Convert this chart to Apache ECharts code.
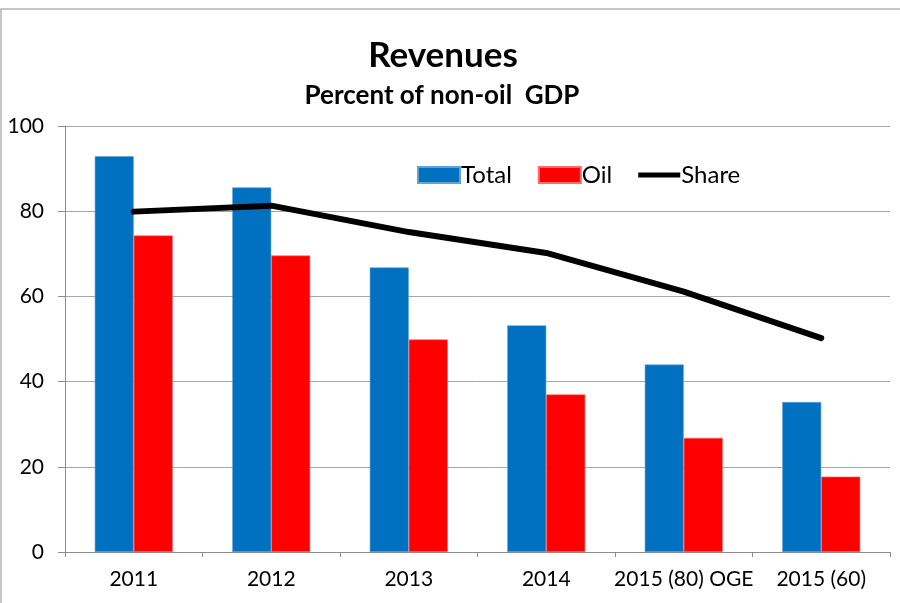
<!DOCTYPE html>
<html>
<head>
    <meta charset="utf-8">
    <title>Revenues</title>
    <script src="https://cdn.jsdelivr.net/npm/echarts@6/dist/echarts.min.js"></script>
    <style>
        body { margin: 0; padding: 0; background: #fff; }
        #chart { width: 900px; height: 603px; }
    </style>
</head>
<body>
    <div id="chart"></div>
    <script>
        // data
        var categories = ['2011', '2012', '2013', '2014', '2015 (80) OGE', '2015 (60)'];
        var totalValues = [92.9, 85.6, 66.8, 53.2, 44.0, 35.2];
        var oilValues = [74.3, 69.6, 49.9, 37.0, 26.8, 17.7];
        var shareValues = [79.9, 81.3, 75.1, 70.2, 61.1, 50.2];
        var yTicks = [0, 20, 40, 60, 80, 100];

        var font = 'Lato, "Open Sans", sans-serif';
        // thin band icon for the line entry (the empty moves keep the full 42x16 box)
        var lineIcon = 'path://M0,0M0,5.5L42,5.5L42,10.5L0,10.5ZM42,16';
        var myChart = echarts.init(document.getElementById('chart'));

        var option = {
            animation: false,
            textStyle: { fontFamily: font, color: '#000' },
            graphic: [
                {
                    type: 'rect',
                    shape: { x: 1, y: 9, width: 920, height: 620 },
                    style: { fill: 'none', stroke: '#b4b4b4', lineWidth: 1.5 },
                    silent: true
                },
                {
                    type: 'text', x: 443, y: 38,
                    style: { text: 'Revenues', textAlign: 'center', textVerticalAlign: 'top',
                             font: 'bold 35px ' + font, fill: '#000' }
                },
                {
                    type: 'text', x: 442, y: 83,
                    style: { text: 'Percent of non-oil  GDP', textAlign: 'center', textVerticalAlign: 'top',
                             font: 'bold 26px ' + font, fill: '#000' }
                }
            ],
            legend: {
                left: 412,
                top: 158,
                itemWidth: 42,
                itemHeight: 16,
                itemGap: 26,
                textStyle: { fontSize: 24, fontFamily: font, color: '#000', padding: [0, 0, 0, -4] },
                data: [
                    { name: 'Total', icon: 'rect' },
                    { name: 'Oil', icon: 'rect' },
                    { name: 'Share', icon: lineIcon, itemStyle: { color: '#000' } }
                ]
            },
            grid: { left: 65, right: 10, top: 126, bottom: 51 },
            xAxis: {
                type: 'category',
                data: categories,
                axisLine: { lineStyle: { color: '#8c8c8c', width: 1 } },
                axisTick: { show: true, length: 5, lineStyle: { color: '#8c8c8c' } },
                axisLabel: { fontSize: 21, color: '#000', margin: 17, interval: 0 }
            },
            yAxis: {
                type: 'value',
                min: yTicks[0],
                max: yTicks[yTicks.length - 1],
                interval: 20,
                axisLine: { show: true, lineStyle: { color: '#8c8c8c', width: 1 } },
                axisTick: { show: true, length: 7, lineStyle: { color: '#8c8c8c' } },
                splitLine: { lineStyle: { color: '#a6a6a6', width: 1 } },
                axisLabel: { fontSize: 21, color: '#000', margin: 21 }
            },
            series: [
                {
                    name: 'Total',
                    type: 'bar',
                    data: totalValues,
                    barWidth: 39,
                    barGap: '0%',
                    itemStyle: { color: '#0070C0', borderColor: '#5fa3d6', borderWidth: 0.6 }
                },
                {
                    name: 'Oil',
                    type: 'bar',
                    data: oilValues,
                    barWidth: 39,
                    barGap: '0%',
                    itemStyle: { color: '#FF0000', borderColor: '#ff6b6b', borderWidth: 0.6 }
                },
                {
                    name: 'Share',
                    type: 'line',
                    data: shareValues,
                    symbol: 'none',
                    z: 5,
                    lineStyle: { color: '#000', width: 6, cap: 'round', join: 'round' },
                    itemStyle: { color: '#000' }
                }
            ]
        };

        myChart.setOption(option);
    </script>
</body>
</html>
